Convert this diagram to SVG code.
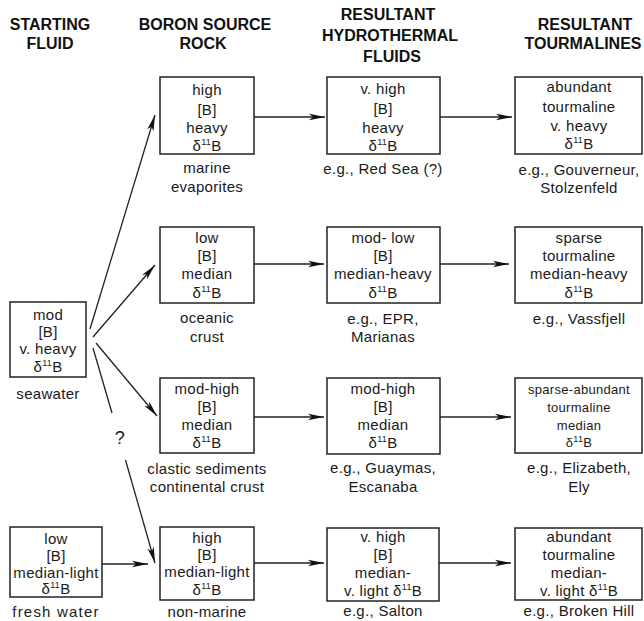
<svg xmlns="http://www.w3.org/2000/svg" width="644" height="621" viewBox="0 0 644 621">
<style>
.h{font-family:"Liberation Sans",Arial,sans-serif;font-weight:bold;font-size:16px;fill:#111;text-anchor:middle}
.t{font-family:"Liberation Sans",Arial,sans-serif;font-size:15px;fill:#1a1a1a;text-anchor:middle;letter-spacing:0.3px}
.s{font-size:13px}
.b{fill:#fff;stroke:#222;stroke-width:1.5}
.c{fill:none;stroke:#222;stroke-width:1.3}
.sup{font-size:9px}
</style>
<defs>
<marker id="ah" markerUnits="userSpaceOnUse" markerWidth="17" markerHeight="8" refX="16" refY="4" orient="auto">
<path d="M0,0.7 L16,4 L0,7.3 L4,4 z" fill="#111"/>
</marker>
</defs>
<rect width="644" height="621" fill="#fff"/>
<g id="headers">
<text class="h" x="50" y="30">STARTING</text>
<text class="h" x="50" y="49">FLUID</text>
<text class="h" x="205" y="30">BORON SOURCE</text>
<text class="h" x="203" y="49">ROCK</text>
<text class="h" x="388" y="20">RESULTANT</text>
<text class="h" x="390" y="41">HYDROTHERMAL</text>
<text class="h" x="392" y="62">FLUIDS</text>
<text class="h" x="585" y="30">RESULTANT</text>
<text class="h" x="583" y="49">TOURMALINES</text>
</g>
<g id="connectors">
<path class="c" d="M254,117 L325,117" marker-end="url(#ah)"/>
<path class="c" d="M440,117 L512,117" marker-end="url(#ah)"/>
<path class="c" d="M254,264 L324,264" marker-end="url(#ah)"/>
<path class="c" d="M440,264 L509,264" marker-end="url(#ah)"/>
<path class="c" d="M254,417 L324,417" marker-end="url(#ah)"/>
<path class="c" d="M440,417 L511,417" marker-end="url(#ah)"/>
<path class="c" d="M254,563 L324,563" marker-end="url(#ah)"/>
<path class="c" d="M438,563 L511,563" marker-end="url(#ah)"/>
<path class="c" d="M102,564 L148,564" marker-end="url(#ah)"/>
<path class="c" d="M90,329 L155,115" marker-end="url(#ah)"/>
<path class="c" d="M93,337 L155,265" marker-end="url(#ah)"/>
<path class="c" d="M96,343 L157,416" marker-end="url(#ah)"/>
<path class="c" d="M93,348 L112,413"/>
<path class="c" d="M125.5,460 L155,563" marker-end="url(#ah)"/>
<text class="t" x="120" y="444" style="font-size:18px">?</text>
</g>
<g id="seawater">
<rect class="b" x="10" y="302" width="76" height="75"/>
<text class="t" x="48" y="320">mod</text>
<text class="t" x="48" y="337">[B]</text>
<text class="t" x="48" y="354">v. heavy</text>
<text class="t" x="48" y="372">δ<tspan class="sup" dy="-6">11</tspan><tspan dy="6">B</tspan></text>
<text class="t" x="48" y="399">seawater</text>
</g>
<g id="freshwater">
<rect class="b" x="10" y="527" width="92" height="70"/>
<text class="t" x="56" y="544">low</text>
<text class="t" x="56" y="561">[B]</text>
<text class="t" x="56" y="578">median-light</text>
<text class="t" x="56" y="594">δ<tspan class="sup" dy="-6">11</tspan><tspan dy="6">B</tspan></text>
<text class="t" x="56" y="617" style="letter-spacing:1.2px">fresh water</text>
</g>
<g id="marine-evaporites">
<rect class="b" x="160" y="77" width="94" height="77"/>
<text class="t" x="207" y="95">high</text>
<text class="t" x="207" y="115">[B]</text>
<text class="t" x="207" y="133">heavy</text>
<text class="t" x="207" y="151">δ<tspan class="sup" dy="-6">11</tspan><tspan dy="6">B</tspan></text>
<text class="t" x="207" y="173">marine</text>
<text class="t" x="207" y="192">evaporites</text>
</g>
<g id="oceanic-crust">
<rect class="b" x="160" y="227" width="94" height="76"/>
<text class="t" x="207" y="243">low</text>
<text class="t" x="207" y="261">[B]</text>
<text class="t" x="207" y="279">median</text>
<text class="t" x="207" y="298">δ<tspan class="sup" dy="-6">11</tspan><tspan dy="6">B</tspan></text>
<text class="t" x="207" y="323">oceanic</text>
<text class="t" x="207" y="342">crust</text>
</g>
<g id="clastic-sediments">
<rect class="b" x="160" y="378" width="94" height="75"/>
<text class="t" x="207" y="394">mod-high</text>
<text class="t" x="207" y="412">[B]</text>
<text class="t" x="207" y="430">median</text>
<text class="t" x="207" y="448">δ<tspan class="sup" dy="-6">11</tspan><tspan dy="6">B</tspan></text>
<text class="t" x="207" y="474">clastic sediments</text>
<text class="t" x="207" y="492">continental crust</text>
</g>
<g id="non-marine">
<rect class="b" x="160" y="527" width="94" height="73"/>
<text class="t" x="207" y="543">high</text>
<text class="t" x="207" y="560">[B]</text>
<text class="t" x="207" y="577">median-light</text>
<text class="t" x="207" y="595">δ<tspan class="sup" dy="-6">11</tspan><tspan dy="6">B</tspan></text>
<text class="t" x="207" y="617">non-marine</text>
</g>
<g id="red-sea">
<rect class="b" x="327" y="77" width="113" height="77"/>
<text class="t" x="383" y="94">v. high</text>
<text class="t" x="383" y="114">[B]</text>
<text class="t" x="383" y="133">heavy</text>
<text class="t" x="383" y="151">δ<tspan class="sup" dy="-6">11</tspan><tspan dy="6">B</tspan></text>
<text class="t" x="383" y="174">e.g., Red Sea (?)</text>
</g>
<g id="epr">
<rect class="b" x="327" y="227" width="113" height="76"/>
<text class="t" x="383" y="243">mod- low</text>
<text class="t" x="383" y="261">[B]</text>
<text class="t" x="383" y="279">median-heavy</text>
<text class="t" x="383" y="298">δ<tspan class="sup" dy="-6">11</tspan><tspan dy="6">B</tspan></text>
<text class="t" x="383" y="324">e.g., EPR,</text>
<text class="t" x="383" y="342">Marianas</text>
</g>
<g id="guaymas">
<rect class="b" x="327" y="378" width="113" height="76"/>
<text class="t" x="383" y="394">mod-high</text>
<text class="t" x="383" y="412">[B]</text>
<text class="t" x="383" y="430">median</text>
<text class="t" x="383" y="448">δ<tspan class="sup" dy="-6">11</tspan><tspan dy="6">B</tspan></text>
<text class="t" x="383" y="473">e.g., Guaymas,</text>
<text class="t" x="383" y="492">Escanaba</text>
</g>
<g id="salton">
<rect class="b" x="327" y="528" width="112" height="73"/>
<text class="t" x="383" y="542">v. high</text>
<text class="t" x="383" y="560">[B]</text>
<text class="t" x="383" y="578">median-</text>
<text class="t" x="383" y="596">v. light δ<tspan class="sup" dy="-6">11</tspan><tspan dy="6">B</tspan></text>
<text class="t" x="383" y="616">e.g., Salton</text>
</g>
<g id="gouverneur">
<rect class="b" x="515" y="77" width="127" height="77"/>
<text class="t" x="579" y="92">abundant</text>
<text class="t" x="579" y="112">tourmaline</text>
<text class="t" x="579" y="131">v. heavy</text>
<text class="t" x="579" y="149">δ<tspan class="sup" dy="-6">11</tspan><tspan dy="6">B</tspan></text>
<text class="t" x="579" y="175">e.g., Gouverneur,</text>
<text class="t" x="579" y="193">Stolzenfeld</text>
</g>
<g id="vassfjell">
<rect class="b" x="515" y="227" width="127" height="76"/>
<text class="t" x="579" y="243">sparse</text>
<text class="t" x="579" y="261">tourmaline</text>
<text class="t" x="579" y="279">median-heavy</text>
<text class="t" x="579" y="298">δ<tspan class="sup" dy="-6">11</tspan><tspan dy="6">B</tspan></text>
<text class="t" x="579" y="324">e.g., Vassfjell</text>
</g>
<g id="elizabeth">
<rect class="b" x="515" y="378" width="127" height="75"/>
<text class="t s" x="579" y="394">sparse-abundant</text>
<text class="t s" x="579" y="412">tourmaline</text>
<text class="t s" x="579" y="430">median</text>
<text class="t s" x="579" y="447">δ<tspan class="sup" dy="-5">11</tspan><tspan dy="5">B</tspan></text>
<text class="t" x="579" y="473">e.g., Elizabeth,</text>
<text class="t" x="579" y="492">Ely</text>
</g>
<g id="broken-hill">
<rect class="b" x="515" y="528" width="127" height="72"/>
<text class="t" x="579" y="542">abundant</text>
<text class="t" x="579" y="560">tourmaline</text>
<text class="t" x="579" y="578">median-</text>
<text class="t" x="579" y="596">v. light δ<tspan class="sup" dy="-6">11</tspan><tspan dy="6">B</tspan></text>
<text class="t" x="579" y="616">e.g., Broken Hill</text>
</g>
</svg>
